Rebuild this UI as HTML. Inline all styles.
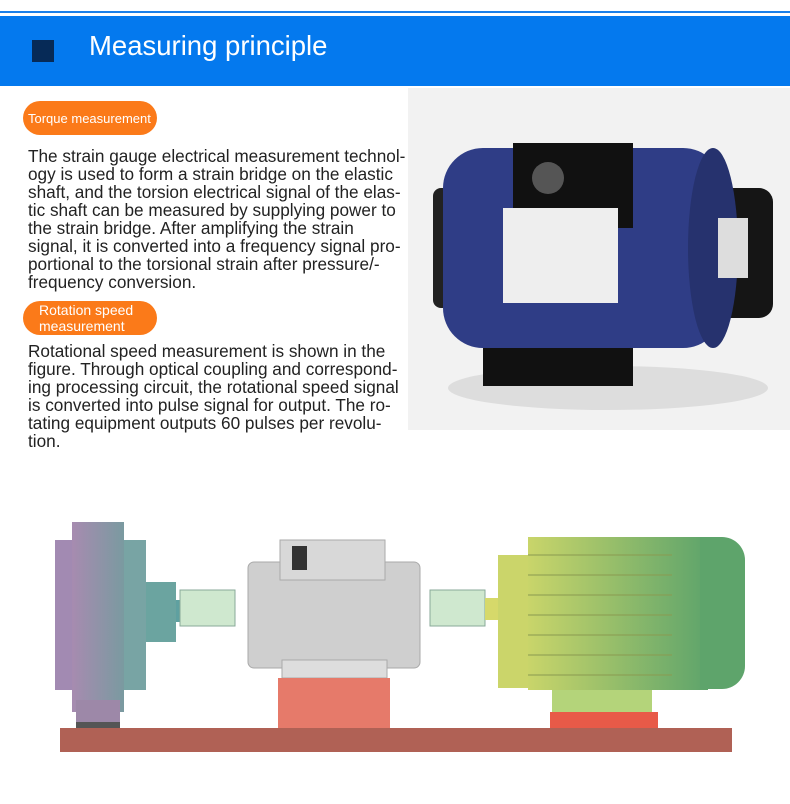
<!DOCTYPE html>
<html><head><style>
body{margin:0;width:790px;height:804px;background:#fff;position:relative;overflow:hidden;font-family:"Liberation Sans",sans-serif}
.a{position:absolute}
.t{position:absolute;left:28px;font-size:17.2px;line-height:18px;color:#222;white-space:pre}
.pill{position:absolute;left:23px;width:134px;height:34px;background:#fb7a19;border-radius:17px;color:#fff}
</style></head><body>
<div class="a" style="left:0;top:11px;width:790px;height:2px;background:#1b7fe8"></div>
<div class="a" style="left:0;top:16px;width:790px;height:70px;background:#0479ee"></div>
<div class="a" style="left:32px;top:40px;width:22px;height:22px;background:#062a57"></div>
<div class="a" style="left:89px;top:30px;font-size:27.5px;color:#fff">Measuring principle</div>

<div class="pill" style="top:101px"><div style="padding:10px 0 0 5px;font-size:13px">Torque measurement</div></div>
<div class="t" style="top:147px">The strain gauge electrical measurement technol-
ogy is used to form a strain bridge on the elastic
shaft, and the torsion electrical signal of the elas-
tic shaft can be measured by supplying power to
the strain bridge. After amplifying the strain
signal, it is converted into a frequency signal pro-
portional to the torsional strain after pressure/-
frequency conversion.</div>
<div class="pill" style="top:301px"><div style="padding:1px 0 0 16px;font-size:14px;line-height:16px">Rotation speed<br>measurement</div></div>
<div class="t" style="top:342px">Rotational speed measurement is shown in the
figure. Through optical coupling and correspond-
ing processing circuit, the rotational speed signal
is converted into pulse signal for output. The ro-
tating equipment outputs 60 pulses per revolu-
tion.</div>

<svg class="a" style="left:408px;top:88px" width="382" height="342">
<rect width="382" height="342" fill="#f2f2f2"/>
<ellipse cx="200" cy="300" rx="160" ry="22" fill="#ddd"/>
<rect x="75" y="240" width="150" height="58" fill="#111"/>
<rect x="25" y="100" width="40" height="120" rx="8" fill="#222"/>
<rect x="290" y="100" width="75" height="130" rx="14" fill="#151515"/>
<rect x="35" y="60" width="280" height="200" rx="40" fill="#2f3d86"/>
<ellipse cx="305" cy="160" rx="25" ry="100" fill="#26326e"/>
<rect x="105" y="55" width="120" height="85" fill="#111"/>
<rect x="95" y="120" width="115" height="95" fill="#eee"/>
<circle cx="140" cy="90" r="16" fill="#555"/>
<rect x="310" y="130" width="30" height="60" fill="#ddd"/>
</svg>

<svg class="a" style="left:0;top:500px" width="790" height="280">
<defs>
<linearGradient id="m" x1="0" x2="1"><stop offset="0" stop-color="#c9d56a"/><stop offset="1" stop-color="#5ea46b"/></linearGradient>
<linearGradient id="b" x1="0" x2="1"><stop offset="0" stop-color="#a78bb0"/><stop offset="1" stop-color="#7a9aa0"/></linearGradient>
</defs>
<rect x="55" y="40" width="90" height="150" fill="#a28ab2"/>
<rect x="72" y="22" width="52" height="190" fill="url(#b)"/>
<rect x="124" y="40" width="22" height="150" fill="#78a4a4"/>
<rect x="146" y="82" width="30" height="60" fill="#6ba4a0"/>
<rect x="176" y="100" width="10" height="22" fill="#5fa0a0"/>
<rect x="76" y="200" width="44" height="22" fill="#9d88a8"/>
<rect x="76" y="222" width="44" height="6" fill="#555"/>
<rect x="180" y="90" width="55" height="36" fill="#cfe8cf" stroke="#8a9"/>
<rect x="430" y="90" width="55" height="36" fill="#cfe8cf" stroke="#8a9"/>
<rect x="485" y="98" width="15" height="22" fill="#d6d96a"/>
<rect x="248" y="62" width="172" height="106" rx="6" fill="#cfcfcf" stroke="#aaa"/>
<rect x="280" y="40" width="105" height="40" fill="#d8d8d8" stroke="#aaa"/>
<rect x="292" y="46" width="15" height="24" fill="#333"/>
<rect x="282" y="160" width="105" height="18" fill="#ddd" stroke="#aaa"/>
<rect x="278" y="178" width="112" height="50" fill="#e67a6a"/>
<rect x="498" y="55" width="30" height="133" fill="#cbd56a"/>
<rect x="528" y="37" width="180" height="153" fill="url(#m)"/>
<path d="M700 37 H722 A23 23 0 0 1 745 60 V166 A23 23 0 0 1 722 189 H700 Z" fill="#5ea46b"/>
<g stroke="#8a9a50" stroke-width="1">
<line x1="528" y1="55" x2="672" y2="55"/><line x1="528" y1="75" x2="672" y2="75"/><line x1="528" y1="95" x2="672" y2="95"/><line x1="528" y1="115" x2="672" y2="115"/><line x1="528" y1="135" x2="672" y2="135"/><line x1="528" y1="155" x2="672" y2="155"/><line x1="528" y1="175" x2="672" y2="175"/>
</g>
<rect x="552" y="190" width="100" height="22" fill="#b4d47a"/>
<rect x="550" y="212" width="108" height="16" fill="#e85a48"/>
<rect x="60" y="228" width="672" height="24" fill="#b06155"/>
</svg>
</body></html>
